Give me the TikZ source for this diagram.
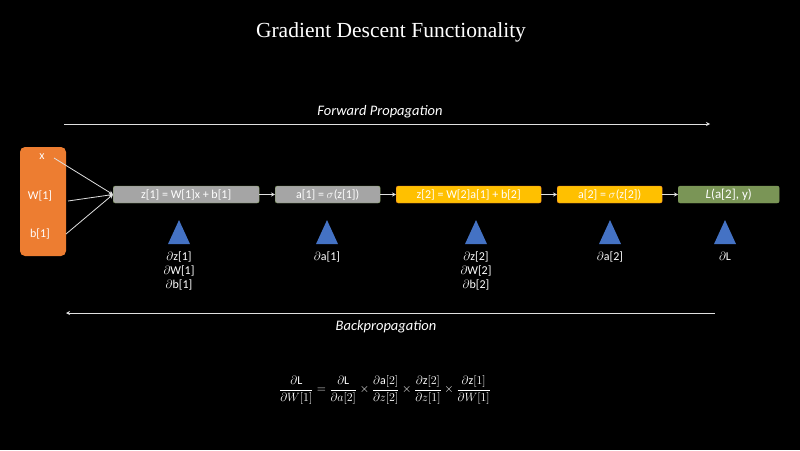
\documentclass[tikz,border=0pt]{standalone}
\usepackage{fontspec}
\usepackage{amsmath}
\setmainfont{Carlito}
\newfontfamily\titlefont{Liberation Serif}
\usetikzlibrary{arrows.meta,shapes.geometric}
\definecolor{orng}{HTML}{ED7D31}
\definecolor{grayb}{HTML}{A5A5A5}
\definecolor{yell}{HTML}{FFC000}
\definecolor{olive}{HTML}{7A9556}
\definecolor{triblue}{HTML}{4472C4}
\definecolor{linec}{HTML}{E0E0E0}
\tikzset{
  proc/.style={rounded corners=2pt, minimum height=17pt, inner sep=0pt, anchor=west,
    font=\fontsize{12}{13}\selectfont, text=white},
  tri/.style={isosceles triangle, shape border rotate=90, isosceles triangle stretches,
    fill=triblue, minimum height=24pt, minimum width=22pt, inner sep=0pt},
  dlabel/.style={anchor=north, align=center, text=white, font=\fontsize{12}{14}\selectfont, inner sep=0pt},
  conn/.style={draw=linec, line width=0.8pt, -{Stealth[length=4pt,width=4pt]}},
  bigarrow/.style={draw=linec, line width=0.9pt, -{Stealth[length=4pt,width=4pt]}},
  intext/.style={text=white, font=\fontsize{12}{13}\selectfont, inner sep=0pt}
}
\begin{document}
\begin{tikzpicture}[x=1pt,y=-1pt]
\fill[black] (0,0) rectangle (800,450);
\useasboundingbox (0,0) rectangle (800,450);

% title
\node[text=white, font=\titlefont\fontsize{21.5}{24}\selectfont] (title) at (391,32) {Gradient Descent Functionality};

% forward
\coordinate (fs) at (64,124);
\coordinate (fe) at (710,124);
\draw[bigarrow] (fs) -- (fe);
\node[text=white, font=\itshape\fontsize{14.5}{16}\selectfont] (ftext) at (380,112) {Forward Propagation};

% backward
\coordinate (bs) at (715,313);
\coordinate (be) at (66,313);
\draw[bigarrow] (bs) -- (be);
\node[text=white, font=\itshape\fontsize{14.5}{16}\selectfont] (btext) at (386,327) {Backpropagation};

% input box
\node[fill=orng, rounded corners=5pt, minimum width=46pt, minimum height=109pt, inner sep=0pt] (inp) at (43,201.5) {};
\node[intext] (xin) at (42,157) {x};
\node[intext] (win) at (40,196) {W[1]};
\node[intext] (bin) at (40,234) {b[1]};

% process boxes
\node[proc, fill=grayb, draw=olive, line width=0.4pt, minimum width=146pt] (g1) at (113,194.5) {z[1] = W[1]x + b[1]};
\node[proc, fill=grayb, draw=olive, line width=0.4pt, minimum width=105pt] (g2) at (275,194.5) {a[1] = $\sigma$(z[1])};
\node[proc, fill=yell, draw=orng, line width=0.4pt, minimum width=145pt] (y1) at (396,194.5) {z[2] = W[2]a[1] + b[2]};
\node[proc, fill=yell, draw=orng, line width=0.4pt, minimum width=105pt] (y2) at (557,194.5) {a[2] = $\sigma$(z[2])};
\node[proc, fill=olive, draw=olive, minimum width=101pt, font=\fontsize{13}{14}\selectfont] (gr) at (678,194.5) {\textit{L}(a[2], y)};

% input connectors
\coordinate (xo) at (54,158);
\coordinate (wo) at (68,201);
\coordinate (bo) at (66,234);
\draw[conn] (xo) -- (g1.west);
\draw[conn] (wo) -- (g1.west);
\draw[conn] (bo) -- (g1.west);

\draw[conn] (g1) -- (g2);
\draw[conn] (g2) -- (y1);
\draw[conn] (y1) -- (y2);
\draw[conn] (y2) -- (gr);

% triangles
\node[tri] (t1) at (179,237) {};
\node[tri] (t2) at (327,237) {};
\node[tri] (t3) at (476,237) {};
\node[tri] (t4) at (610,237) {};
\node[tri] (t5) at (725,237) {};

\node[dlabel] (l1) at (179,252) {$\partial$z[1]\\$\partial$W[1]\\$\partial$b[1]};
\node[dlabel] (l2) at (327,252) {$\partial$a[1]};
\node[dlabel] (l3) at (476,252) {$\partial$z[2]\\$\partial$W[2]\\$\partial$b[2]};
\node[dlabel] (l4) at (610,252) {$\partial$a[2]};
\node[dlabel] (l5) at (725,252) {$\partial$L};

% formula
\node[text=white, font=\fontsize{12}{14}\selectfont] (formula) at (385,390)
 {$\dfrac{\partial \mathrm{L}}{\partial W[1]} = \dfrac{\partial \mathrm{L}}{\partial a[2]}\times\dfrac{\partial \mathrm{a}[2]}{\partial z[2]}\times\dfrac{\partial \mathrm{z}[2]}{\partial z[1]}\times\dfrac{\partial \mathrm{z}[1]}{\partial W[1]}$};
\end{tikzpicture}
\end{document}
